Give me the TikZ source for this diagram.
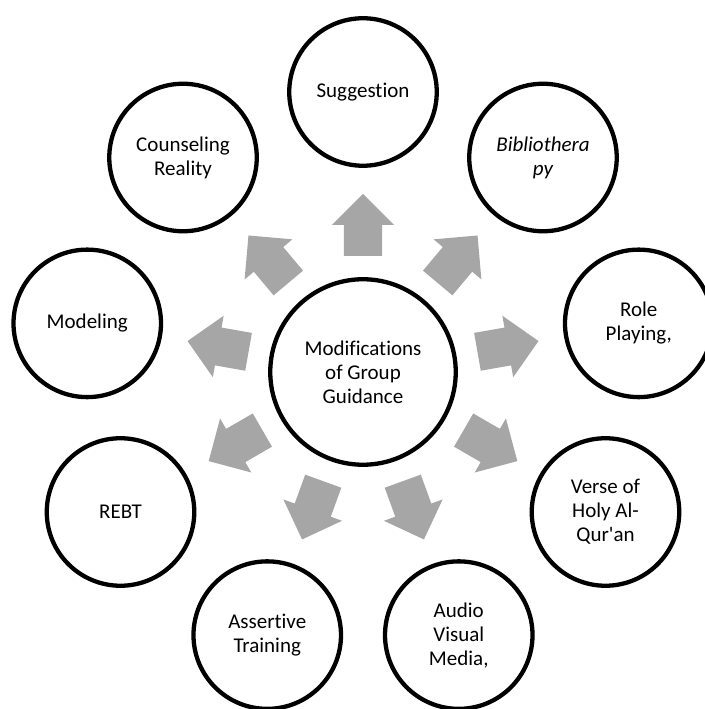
\documentclass[tikz,border=0pt]{standalone}
\usepackage{fontspec}
\setmainfont{Carlito}[Ligatures={NoCommon}]
\usetikzlibrary{shapes.arrows,calc}
\definecolor{pfeilgrau}{RGB}{166,166,166}

\begin{document}
\begin{tikzpicture}[x=1pt,y=1pt,
	kreis/.style={circle,draw,line width=4.3pt,minimum size=147.5pt,inner sep=0pt,align=center,font=\fontsize{21}{24}\selectfont},
	mitte/.style={kreis,minimum size=185.5pt},
	blockpfeil/.style={single arrow,fill=pfeilgrau,inner xsep=0pt,inner ysep=19pt,minimum height=62pt,single arrow head extend=12pt,single arrow tip angle=90,anchor=tail}]
		% Rahmen
		\useasboundingbox (0,0) rectangle (704,709);
		
		% Mittelkreis
		\node[mitte] (mod) at (363,337) {Modifications\\of Group\\Guidance};
		
		% Äußere Kreise (alle 40 Grad)
		\node[kreis] (sug) at ([shift={(90:280)}]mod.center) {Suggestion};
		\node[kreis,font=\fontsize{21}{24}\selectfont\itshape] (bib) at ([shift={(50:280)}]mod.center) {Bibliothera\\py};
		\node[kreis] (rol) at ([shift={(10:280)}]mod.center) {Role\\Playing,};
		\node[kreis] (ver) at ([shift={(-30:280)}]mod.center) {Verse of\\Holy Al-\\Qur\textquotesingle an};
		\node[kreis] (aud) at ([shift={(-70:280)}]mod.center) {Audio\\Visual\\Media,};
		\node[kreis] (ass) at ([shift={(-110:280)}]mod.center) {Assertive\\Training};
		\node[kreis] (reb) at ([shift={(-150:280)}]mod.center) {REBT};
		\node[kreis] (mdl) at ([shift={(170:280)}]mod.center) {Modeling};
		\node[kreis] (cou) at ([shift={(130:280)}]mod.center) {Counseling\\Reality};
		
		% Pfeile nach außen
		\foreach \z/\w in {sug/90,bib/50,rol/10,ver/-30,aud/-70,ass/-110,reb/-150,mdl/170,cou/130}
			\node[blockpfeil,rotate=\w] (p-\z) at ($(mod.center)!116pt!(\z.center)$) {};
	\end{tikzpicture}
\end{document}
